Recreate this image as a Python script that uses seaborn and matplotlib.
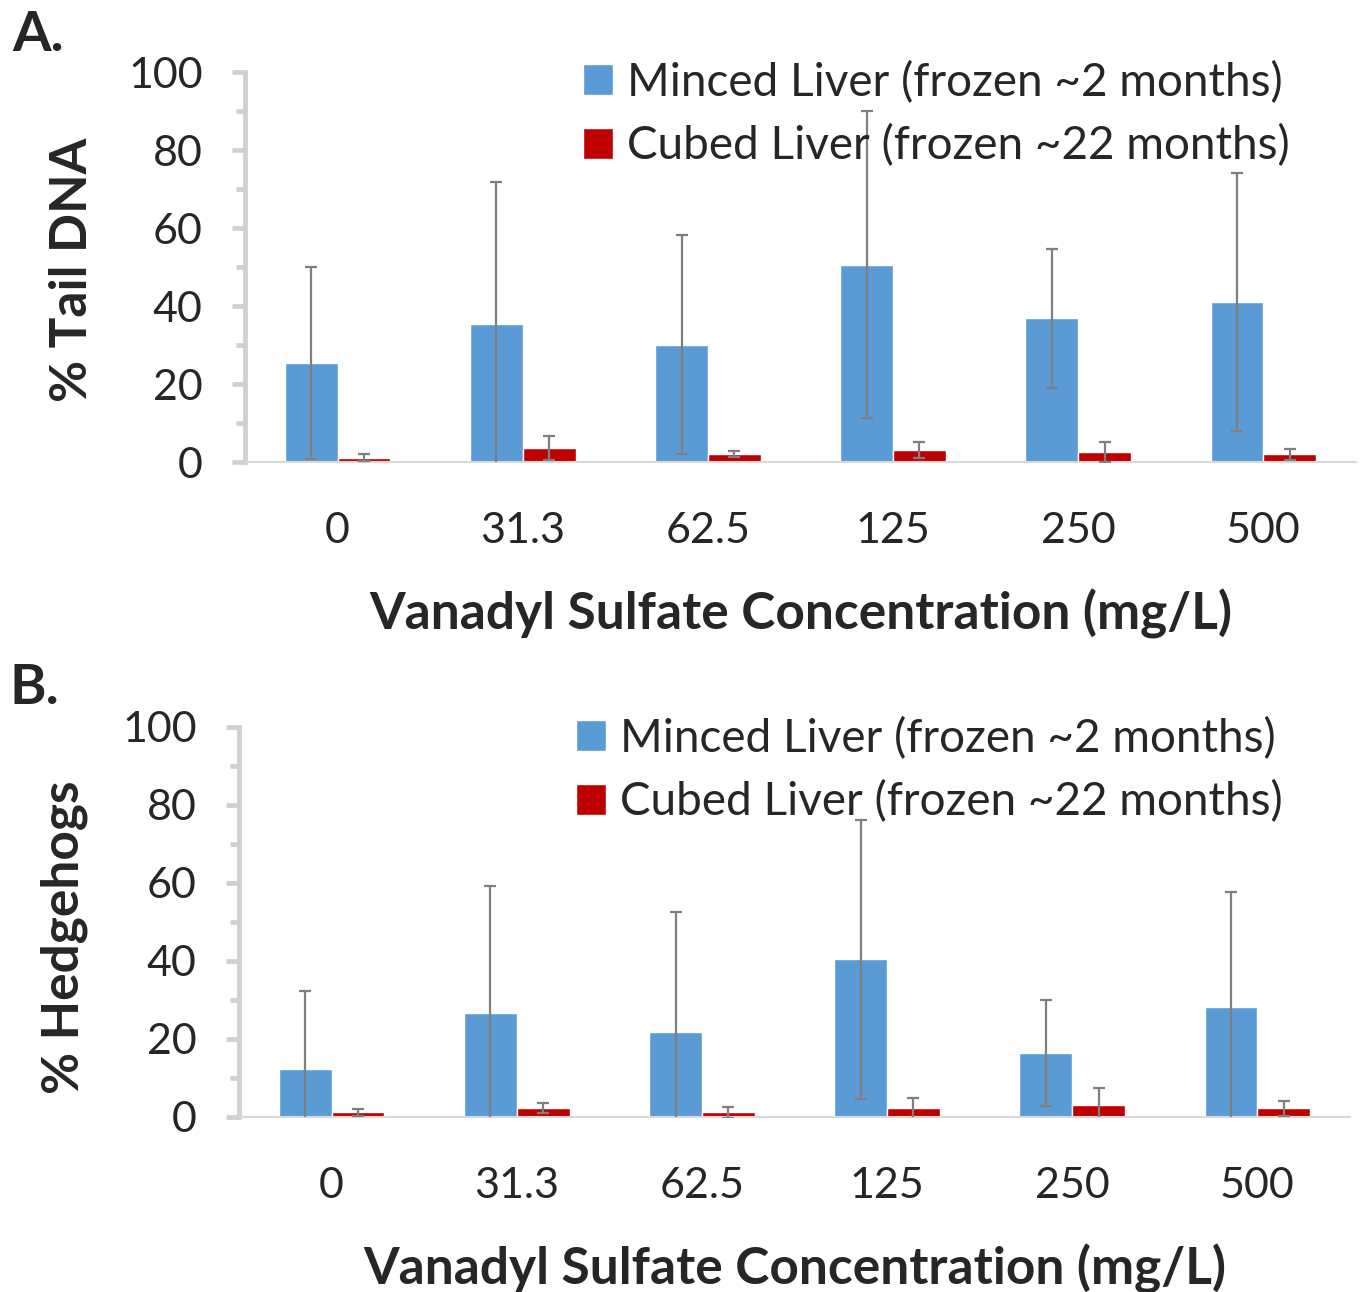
import pandas as pd
import matplotlib.pyplot as plt
import seaborn as sns
from matplotlib.ticker import MultipleLocator

# values
concentrations = ["0", "31.3", "62.5", "125", "250", "500"]
groups = ["Minced Liver (frozen ~2 months)", "Cubed Liver (frozen ~22 months)"]

tail_minced = [25.4, 35.4, 30.1, 50.6, 36.8, 41.0]
tail_minced_err = [24.7, 36.4, 28.0, 39.4, 17.8, 33.0]
tail_cubed = [1.1, 3.6, 2.0, 3.0, 2.6, 2.0]
tail_cubed_err = [0.9, 3.0, 0.7, 2.1, 2.5, 1.4]

hedgehog_minced = [12.3, 26.6, 21.9, 40.4, 16.4, 28.2]
hedgehog_minced_err = [19.9, 32.7, 30.6, 35.8, 13.7, 29.4]
hedgehog_cubed = [1.2, 2.3, 1.2, 2.2, 3.2, 2.2]
hedgehog_cubed_err = [0.9, 1.3, 1.4, 2.6, 4.2, 1.9]

BLUE = "#5B9BD5"
RED = "#C00000"
ERR = "#7F7F7F"
AXIS = "#D0D0D0"

sns.set_style("white")
plt.rcParams['font.family'] = ['Lato', 'DejaVu Sans']


def make_frame(minced, cubed):
    return pd.DataFrame({
        "conc": concentrations * 2,
        "group": [groups[0]] * len(minced) + [groups[1]] * len(cubed),
        "value": minced + cubed,
    })


def draw_panel(fig, rect, minced, minced_err, cubed, cubed_err, ylabel, ylabel_xy, legend_xy):
    ax = fig.add_axes(rect)
    df = make_frame(minced, cubed)
    sns.barplot(data=df, x="conc", y="value", hue="group", hue_order=groups,
                palette={groups[0]: BLUE, groups[1]: RED}, saturation=1,
                width=0.57, errorbar=None, ax=ax)

    # error bars on each bar centre
    for cont, errs in zip(ax.containers, [minced_err, cubed_err]):
        for bar, e in zip(cont, errs):
            xc = bar.get_x() + bar.get_width() / 2
            ax.errorbar(xc, bar.get_height(), yerr=e, color=ERR, lw=1.6,
                        capsize=4, capthick=1.6, zorder=5)

    ax.set_xlim(-0.5, len(concentrations) - 0.5)
    ax.set_ylim(0, 100)
    ax.yaxis.set_major_locator(MultipleLocator(20))
    ax.yaxis.set_minor_locator(MultipleLocator(10))
    for s in ["top", "right"]:
        ax.spines[s].set_visible(False)
    ax.spines["left"].set_color(AXIS)
    ax.spines["left"].set_linewidth(3.4)
    ax.spines["bottom"].set_color("#D9D9D9")
    ax.spines["bottom"].set_linewidth(1.5)

    ax.tick_params(axis="y", which="major", length=9.5, width=3.4, color=AXIS,
                   direction="out", pad=21, labelsize=31, left=True)
    ax.tick_params(axis="y", which="minor", length=6.5, width=3.4, color=AXIS,
                   direction="out", left=True)
    ax.tick_params(axis="x", length=0, pad=36, labelsize=31)

    ax.set_xlabel("Vanadyl Sulfate Concentration (mg/L)", fontsize=37, fontweight="bold")
    ax.xaxis.set_label_coords(0.5, -0.325)
    ax.set_ylabel(ylabel, fontsize=37, fontweight="bold")
    ax.yaxis.set_label_coords(*ylabel_xy)
    ax.yaxis.label.set_va("center")

    handles, labels = ax.get_legend_handles_labels()
    ax.legend(handles, labels, loc="upper left", bbox_to_anchor=legend_xy,
              bbox_transform=fig.transFigure, frameon=False, fontsize=33,
              handlelength=0.66, handleheight=0.66, handletextpad=0.3,
              labelspacing=0.45, borderpad=0, borderaxespad=0)
    return ax


fig = plt.figure(figsize=(13.6, 12.92), dpi=100)

draw_panel(fig, [245 / 1360, 1 - 462 / 1292, 1111 / 1360, 390 / 1292],
           tail_minced, tail_minced_err, tail_cubed, tail_cubed_err,
           "% Tail DNA", (-0.155, 0.492), (583 / 1360, 1 - 61 / 1292))
draw_panel(fig, [239 / 1360, 1 - 1117 / 1292, 1111 / 1360, 390 / 1292],
           hedgehog_minced, hedgehog_minced_err, hedgehog_cubed, hedgehog_cubed_err,
           "% Hedgehogs", (-0.157, 0.4615), (576 / 1360, 1 - 717 / 1292))

fig.text(12 / 1360, 1 - 10 / 1292, "A.", fontsize=40, fontweight="bold", va="top", ha="left")
fig.text(10 / 1360, 1 - 663 / 1292, "B.", fontsize=40, fontweight="bold", va="top", ha="left")

fig.savefig("out.png", dpi=100)
